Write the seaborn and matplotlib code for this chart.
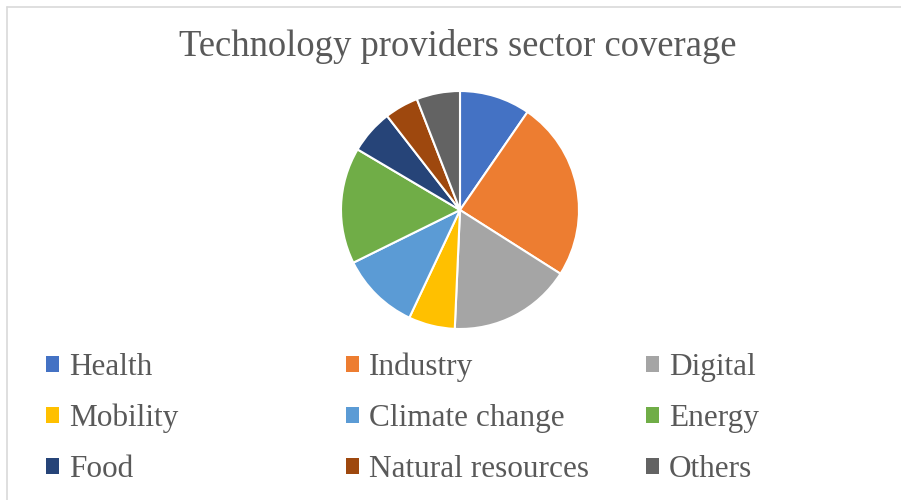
import matplotlib
matplotlib.use("Agg")
import matplotlib.pyplot as plt
import seaborn as sns
from matplotlib.patches import Patch
from matplotlib.lines import Line2D

sns.set_theme(style="white")
plt.rcParams['font.family'] = ['Liberation Serif', 'DejaVu Serif']

categories = ["Health", "Industry", "Digital", "Mobility", "Climate change",
              "Energy", "Food", "Natural resources", "Others"]
shares = [9.6, 24.4, 16.7, 6.3, 10.7, 15.8, 6.0, 4.6, 5.9]
colors = ["#4472C4", "#ED7D31", "#A5A5A5", "#FFC000", "#5B9BD5",
          "#70AD47", "#264478", "#9E480E", "#636363"]
title = "Technology providers sector coverage"
text_color = "#595959"

W, H = 901, 500
fig = plt.figure(figsize=(W / 100, H / 100), dpi=100)
fig.patch.set_facecolor("white")

# chart border (top and left visible)
fig.add_artist(Line2D([7 / W, 1], [1 - 7 / H, 1 - 7 / H], color="#D9D9D9", lw=1.2))
fig.add_artist(Line2D([7 / W, 7 / W], [0, 1 - 7 / H], color="#D9D9D9", lw=1.2))

cx, cy, r = 460, 210, 119
ax = fig.add_axes([(cx - r) / W, 1 - (cy + r) / H, 2 * r / W, 2 * r / H])
ax.pie(shares, colors=colors, startangle=90, counterclock=False,
       wedgeprops=dict(edgecolor="white", linewidth=1.5))
ax.set_xlim(-1, 1)
ax.set_ylim(-1, 1)
ax.set_aspect("equal")
ax.axis("off")

fig.text(458 / W, 1 - 46 / H, title, ha="center", va="center",
         fontsize=26.4, color=text_color)

col_x = [46, 346, 646]
for c in range(3):
    idx = [c, c + 3, c + 6]
    handles = [Patch(facecolor=colors[i], edgecolor="none") for i in idx]
    labels = [categories[i] for i in idx]
    leg = fig.legend(handles, labels, loc="upper left",
                     bbox_to_anchor=(col_x[c] / W, 1 - 353 / H),
                     frameon=False, fontsize=22.5, labelcolor=text_color,
                     handlelength=0.42, handleheight=0.42, handletextpad=0.32,
                     labelspacing=0.7, borderpad=0, borderaxespad=0)

fig.savefig("out.png", dpi=100, facecolor="white")
